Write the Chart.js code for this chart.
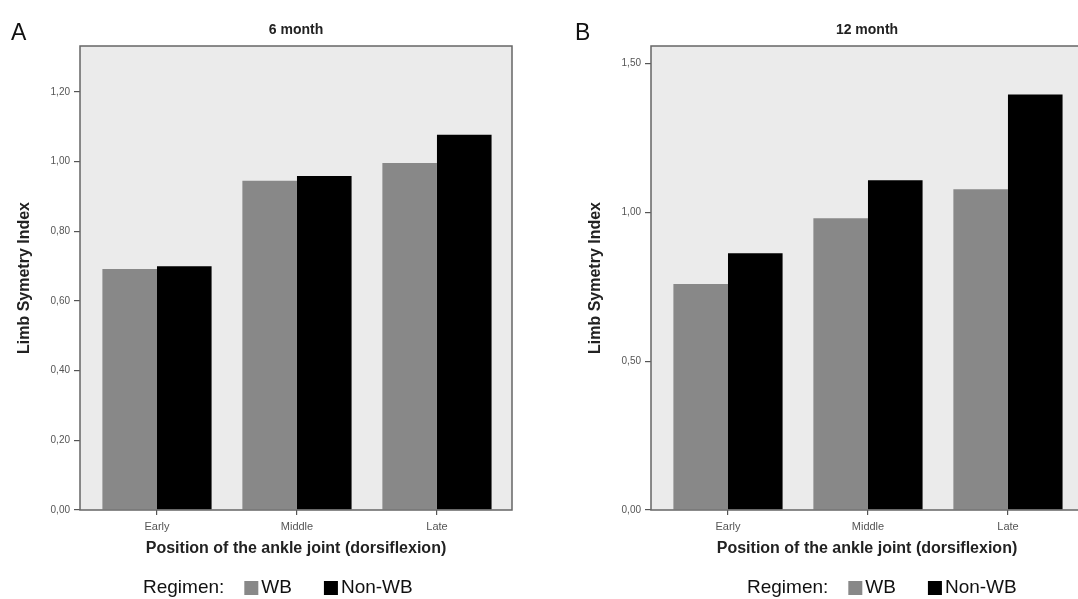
<!DOCTYPE html>
<html><head><meta charset="utf-8">
<script src="https://cdn.jsdelivr.net/npm/chart.js@4.4.0/dist/chart.umd.min.js"></script>
<style>
html,body{margin:0;padding:0;background:#fff;overflow:hidden;width:1078px;height:599px;}
#wrap{position:relative;width:1078px;height:599px;overflow:hidden;}
canvas{position:absolute;top:0;}
</style></head><body>
<div id="wrap">
<canvas id="cA" width="540" height="599" style="left:0px"></canvas>
<canvas id="cB" width="540" height="599" style="left:571px"></canvas>
</div>
<script>
// ---- data ----
const categories = ['Early', 'Middle', 'Late'];
const seriesNames = ['WB', 'Non-WB'];
const wb6 = [0.692, 0.945, 0.996];
const nonwb6 = [0.700, 0.959, 1.077];
const wb12 = [0.759, 0.980, 1.078];
const nonwb12 = [0.863, 1.108, 1.396];
const yTicks6 = [0, 0.2, 0.4, 0.6, 0.8, 1.0, 1.2];
const yTicks12 = [0, 0.5, 1.0, 1.5];
const yMax6 = 1.332;
const yMax12 = 1.559;
const panelTitles = ['6 month', '12 month'];
const panelLetters = ['A', 'B'];
const yTitle = 'Limb Symetry Index';
const xTitle = 'Position of the ankle joint (dorsiflexion)';
const legendTitle = 'Regimen:';
const seriesColors = ['#888888', '#000000'];

const FAMILY = '"Liberation Sans", Arial, Helvetica, sans-serif';
Chart.defaults.font.family = FAMILY;

const decor = {
  id: 'decor',
  beforeDatasetsDraw(chart) {
    const {ctx, chartArea: a} = chart;
    ctx.save();
    ctx.fillStyle = '#ebebeb';
    ctx.fillRect(a.left, a.top, a.right - a.left, a.bottom - a.top);
    ctx.restore();
  },
  afterDraw(chart, args, o) {
    const {ctx, chartArea: a} = chart;
    ctx.save();
    ctx.strokeStyle = '#666';
    ctx.lineWidth = 1.5;
    ctx.strokeRect(a.left, a.top, a.right - a.left, a.bottom - a.top);
    // panel letter
    ctx.fillStyle = '#111';
    ctx.textAlign = 'left';
    ctx.textBaseline = 'alphabetic';
    ctx.font = '23px ' + FAMILY;
    ctx.fillText(o.letter, o.letterX, 40);
    // title
    ctx.font = 'bold 14px ' + FAMILY;
    ctx.textAlign = 'center';
    ctx.fillStyle = '#222';
    ctx.fillText(o.title, (a.left + a.right) / 2, 34);
    // legend
    ctx.font = '19px ' + FAMILY;
    ctx.textAlign = 'left';
    ctx.textBaseline = 'middle';
    let x = o.legendX;
    const y = 588;
    ctx.fillStyle = '#111';
    ctx.fillText(legendTitle, x, y);
    x += ctx.measureText(legendTitle).width + 20;
    chart.data.datasets.forEach((ds) => {
      ctx.fillStyle = ds.backgroundColor;
      ctx.fillRect(x, y - 7, 14, 14);
      x += 17;
      ctx.fillStyle = '#111';
      ctx.fillText(ds.label, x, y);
      x += ctx.measureText(ds.label).width + 32;
    });
    ctx.restore();
  }
};

function makeChart(id, wb, nwb, yTicks, yMax, idx, letterX, legendX) {
  return new Chart(document.getElementById(id), {
    type: 'bar',
    data: {
      datasets: [
        {label: seriesNames[0], data: categories.map((c, i) => ({x: i, y: wb[i]})), backgroundColor: seriesColors[0]},
        {label: seriesNames[1], data: categories.map((c, i) => ({x: i, y: nwb[i]})), backgroundColor: seriesColors[1]}
      ]
    },
    options: {
      responsive: false,
      animation: false,
      devicePixelRatio: 1,
      layout: {padding: {top: 46, right: 28, bottom: 40, left: 0}},
      datasets: {bar: {barPercentage: 1, categoryPercentage: 0.78}},
      plugins: {
        legend: {display: false},
        tooltip: {enabled: false},
        decor: {letter: panelLetters[idx], title: panelTitles[idx], letterX: letterX, legendX: legendX}
      },
      scales: {
        x: {
          type: 'linear', min: -0.55, max: 2.536, offset: false,
          afterBuildTicks(s) { s.ticks = categories.map((c, i) => ({value: i})); },
          afterFit(s) { s.height = 49; },
          ticks: {callback: (v) => categories[v], font: {size: 11}, color: '#555', padding: 5, autoSkip: false, maxRotation: 0},
          grid: {offset: false, drawOnChartArea: false, drawTicks: true, tickLength: 5, color: '#555', lineWidth: 1.2},
          border: {display: false},
          title: {display: true, text: xTitle, font: {size: 16, weight: 'bold'}, color: '#222', padding: {top: 0, bottom: 1}}
        },
        y: {
          min: 0, max: yMax,
          afterBuildTicks(s) { s.ticks = yTicks.map((v) => ({value: v})); },
          afterFit(s) { s.width = 80; },
          ticks: {callback: (v) => Number(v).toFixed(2).replace('.', ','), font: {size: 10}, color: '#555', padding: 4},
          grid: {drawOnChartArea: false, drawTicks: true, tickLength: 6, color: '#555', lineWidth: 1.2},
          border: {display: false},
          title: {display: true, text: yTitle, font: {size: 16, weight: 'bold'}, color: '#222', padding: {top: 15.4, bottom: 0}}
        }
      }
    },
    plugins: [decor]
  });
}

makeChart('cA', wb6, nonwb6, yTicks6, yMax6, 0, 11, 143);
makeChart('cB', wb12, nonwb12, yTicks12, yMax12, 1, 4, 176);
</script>
</body></html>
